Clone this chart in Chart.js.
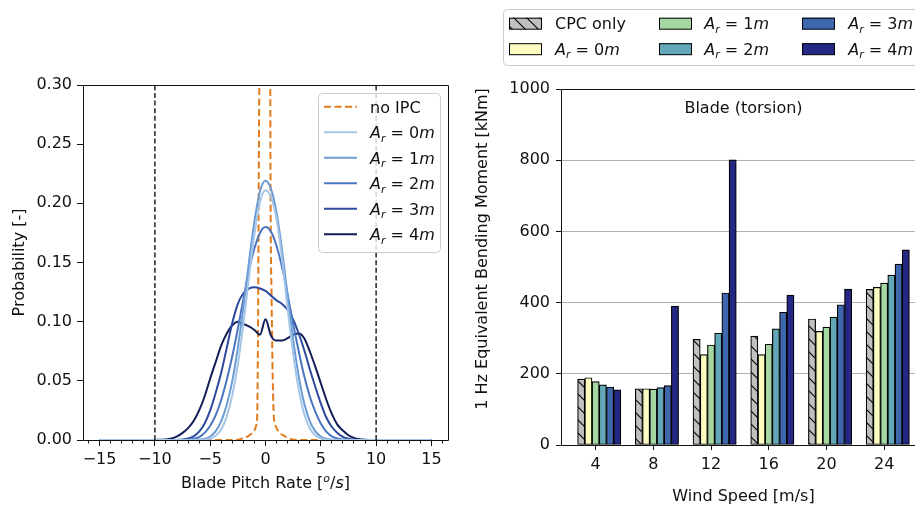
<!DOCTYPE html>
<html><head><meta charset="utf-8">
<script src="https://cdn.jsdelivr.net/npm/chart.js@4/dist/chart.umd.min.js"></script>
<style>
html,body{margin:0;padding:0;width:915px;height:507px;overflow:hidden;background:#fff;}
#l{position:absolute;left:0;top:0;width:460px;height:507px;}
#r{position:absolute;left:470px;top:0;width:470px;height:507px;}
</style></head><body>
<canvas id="l" width="460" height="507"></canvas>
<canvas id="r" width="470" height="507"></canvas>
<script>
// ================= LEFT PANEL DATA =================
const rateX = [-15,-12,-10,-9,-8.5,-8,-7.5,-7,-6.5,-6,-5.5,-5,-4.5,-4,-3.5,-3,-2.5,-2,-1.5,-1,-0.5,0,0.5,1,1.5,2,2.5,3,3.5,4,4.5,5,5.5,6,6.5,7,7.5,8,8.5,9,10,12,15];
const ar0P = [0,0,0,0,0,0,0,0,0,0.0001, 0.0004,0.0013,0.0036,0.009,0.020,0.038,0.064,0.098,0.137,0.174,0.201,0.211,0.205,0.187,0.153,0.111,0.073,0.043,0.022,0.010,0.004,0.0014,0.0004,0.0001, 0,0,0,0,0,0,0,0,0];
const ar1P = [0,0,0,0,0,0,0,0,0.0001, 0.0003,0.001,0.003,0.0075,0.016,0.030,0.050,0.078,0.112,0.150,0.185,0.210,0.219,0.212,0.192,0.160,0.122,0.085,0.054,0.031,0.016,0.0075,0.003,0.001,0.0003,0.0001, 0,0,0,0,0,0,0,0];
const ar2P = [0,0,0,0,0,0,0.0001, 0.0003,0.001,0.0025,0.006,0.012,0.021,0.034,0.051,0.071,0.094,0.119,0.143,0.162,0.175,0.180,0.176,0.164,0.146,0.123,0.098,0.075,0.054,0.037,0.024,0.014,0.007,0.003,0.0012,0.0004,0.0001, 0,0,0,0,0,0];
const ar3P = [0,0,0,0,0,0.0001, 0.0004,0.0012,0.003,0.007,0.014,0.025,0.040,0.057,0.078,0.099,0.115,0.124,0.128,0.129,0.128,0.126,0.122,0.118,0.115,0.110,0.102,0.090,0.076,0.060,0.045,0.031,0.019,0.011,0.006,0.0027,0.0011,0.0004,0.0001, 0,0,0,0];
const ar4P = [0,0,0.0001,0.0004, 0.0012,0.003,0.006,0.010,0.016,0.025,0.037,0.052,0.066,0.080,0.090,0.097,0.100,0.098,0.096,0.093,0.089,0.102,0.088,0.084,0.084,0.086,0.089,0.090,0.086,0.075,0.062,0.048,0.034,0.022,0.013,0.008,0.004,0.0018,0.0007,0.0002, 0,0,0];
const noIpcX = [-15,-3,-2.4,-2.0,-1.6,-1.3,-1.0,-0.85,-0.75,-0.71,-0.66,-0.62,-0.56,-0.45,-0.25,-0.05,0.15,0.35,0.43,0.46,0.55,0.66,0.75,0.85,1.0,1.3,1.7,2.0,2.4,3,15];
const noIpcP = [0,0,0.0005,0.0015,0.003,0.005,0.008,0.012,0.02,0.05,0.12,0.2,0.3,0.42,0.58,0.64,0.58,0.4,0.3,0.2,0.12,0.05,0.02,0.014,0.01,0.006,0.0035,0.002,0.0005,0,0];
const rateTicks = [-15,-10,-5,0,5,10,15];
const probTicks = [0,0.05,0.10,0.15,0.20,0.25,0.30];
const rateLimits = [-10, 10];
const lineNames = ['no IPC','A_r = 0m','A_r = 1m','A_r = 2m','A_r = 3m','A_r = 4m'];

// ================= RIGHT PANEL DATA =================
const windSpeeds = [4, 8, 12, 16, 20, 24];
const cpcOnly = [185, 158, 297, 306, 354, 437];
const ar0M    = [189, 158, 254, 254, 319, 443];
const ar1M    = [178, 157, 281, 283, 331, 455];
const ar2M    = [169, 161, 314, 326, 359, 477];
const ar3M    = [163, 167, 427, 373, 394, 508];
const ar4M    = [155, 390, 801, 421, 438, 548];
const momentTicks = [0, 200, 400, 600, 800, 1000];
const barNames = ['CPC only','A_r = 0m','A_r = 1m','A_r = 2m','A_r = 3m','A_r = 4m'];

// ================= STYLE =================
const FONT = '"DejaVu Sans", "Liberation Sans", sans-serif';
const INK = '#111';
const lineColors = ['#e07b1e', '#a6c6e7', '#6c9cd5', '#4a76c0', '#2c499e', '#121d58'];
const barColors = [null, '#fdfdc2', '#a5d7a3', '#62a8b9', '#3f67ae', '#242884'];
const BAR_STEP = 0.5;
Chart.defaults.font.family = FONT;

function fontOf(p){ return (p.i ? 'italic ' : '') + (p.s || 16) + 'px ' + FONT; }
function labelParts(label){
  const m = /^A_r = (\d+)m$/.exec(label);
  if (!m) return [{t: label}];
  return [{t:'A', i:1}, {t:'r', i:1, s:11, dy:3.5}, {t:' = ' + m[1]}, {t:'m', i:1}];
}
function drawRich(ctx, parts, x, y, align){
  let w = 0;
  const ws = parts.map(p => { ctx.font = fontOf(p); const m = ctx.measureText(p.t).width; w += m; return m; });
  let cx = align === 'center' ? x - w / 2 : x;
  ctx.textAlign = 'left'; ctx.textBaseline = 'alphabetic';
  parts.forEach((p, i) => { ctx.font = fontOf(p); ctx.fillText(p.t, cx, y + (p.dy || 0)); cx += ws[i]; });
}
function al(v){ return Math.round(v - 0.5) + 0.5; }
function frame(ctx, a, sides){
  ctx.save(); ctx.strokeStyle = INK; ctx.lineWidth = 1; ctx.setLineDash([]);
  const L = al(a.left), R = al(a.right), T = al(a.top), B = al(a.bottom);
  ctx.beginPath();
  if (sides.includes('l')) { ctx.moveTo(L, T); ctx.lineTo(L, B); }
  if (sides.includes('r')) { ctx.moveTo(R, T); ctx.lineTo(R, B); }
  if (sides.includes('t')) { ctx.moveTo(L, T); ctx.lineTo(R, T); }
  if (sides.includes('b')) { ctx.moveTo(L, B); ctx.lineTo(R, B); }
  ctx.stroke(); ctx.restore();
}
function legendBox(ctx, x, y, w, h){
  ctx.save();
  ctx.beginPath(); ctx.roundRect(x + 0.5, y + 0.5, w, h, 4);
  ctx.fillStyle = 'rgba(255,255,255,0.8)'; ctx.fill();
  ctx.strokeStyle = '#cccccc'; ctx.lineWidth = 1; ctx.stroke();
  ctx.restore();
}
const fmtRate = v => (v < 0 ? '\u2212' + Math.abs(v) : String(v));

// ================= LEFT CHART =================
const lineSeries = [ar0P, ar1P, ar2P, ar3P, ar4P];
const dsL = [{
  label: lineNames[0], data: noIpcX.map((x, i) => ({x, y: noIpcP[i]})),
  borderColor: lineColors[0], borderDash: [7, 3.5], borderWidth: 2, order: 10
}];
lineSeries.forEach((s, k) => dsL.push({
  label: lineNames[k + 1], data: rateX.map((x, i) => ({x, y: s[i]})),
  borderColor: lineColors[k + 1], borderWidth: 2, order: k
}));
dsL.forEach(d => Object.assign(d, {pointRadius: 0, fill: false, cubicInterpolationMode: 'monotone', clip: 0}));

const leftDecor = {
  id: 'leftDecor',
  afterDatasetsDraw(chart){
    const {ctx, chartArea: a, scales: {x}} = chart;
    ctx.save();
    ctx.beginPath(); ctx.rect(a.left, a.top, a.right - a.left, a.bottom - a.top); ctx.clip();
    ctx.strokeStyle = '#000'; ctx.lineWidth = 1.3; ctx.setLineDash([5, 2.6]);
    rateLimits.forEach(v => { const px = x.getPixelForValue(v); ctx.beginPath(); ctx.moveTo(px, a.bottom); ctx.lineTo(px, a.top); ctx.stroke(); });
    ctx.restore();
  },
  afterDraw(chart){
    const {ctx, chartArea: a, scales: {x}} = chart;
    frame(ctx, a, 'lrtb');
    // minor ticks
    ctx.save(); ctx.strokeStyle = INK; ctx.lineWidth = 1; ctx.beginPath();
    for (let v = Math.ceil(x.min); v <= Math.floor(x.max); v++) {
      if (v % 5 === 0) continue;
      const px = al(x.getPixelForValue(v));
      ctx.moveTo(px, a.bottom); ctx.lineTo(px, a.bottom + 3.5);
    }
    ctx.stroke(); ctx.restore();
    // legend
    legendBox(ctx, 318, 93, 122, 159);
    chart.data.datasets.forEach((d, i) => {
      const cy = 106.7 + i * 25.5;
      ctx.save(); ctx.strokeStyle = d.borderColor; ctx.lineWidth = 2;
      ctx.setLineDash(d.borderDash || []);
      ctx.beginPath(); ctx.moveTo(324, cy); ctx.lineTo(357, cy); ctx.stroke(); ctx.restore();
      ctx.fillStyle = INK; drawRich(ctx, labelParts(d.label), 370, cy + 5.8, 'left');
    });
    // axis titles
    ctx.fillStyle = INK;
    drawRich(ctx, [{t:'Blade Pitch Rate ['}, {t:'o', i:1, s:11, dy:-6.5}, {t:'/'}, {t:'s', i:1}, {t:']'}], (a.left + a.right) / 2, 488, 'center');
    ctx.save(); ctx.translate(24, (a.top + a.bottom) / 2); ctx.rotate(-Math.PI / 2);
    drawRich(ctx, [{t:'Probability [-]'}], 0, 0, 'center'); ctx.restore();
  }
};

new Chart(document.getElementById('l'), {
  type: 'line',
  data: { datasets: dsL },
  options: {
    responsive: false, animation: false, events: [],
    layout: { padding: { left: 0, right: 12, top: 85, bottom: 0 } },
    plugins: { legend: { display: false }, tooltip: { enabled: false } },
    scales: {
      x: {
        type: 'linear', min: -16.5, max: 16.5,
        afterBuildTicks: s => { s.ticks = rateTicks.map(v => ({value: v})); },
        afterFit: s => { s.height = 67; },
        grid: { drawOnChartArea: false, drawTicks: true, tickLength: 6, tickColor: INK, tickWidth: 1 },
        border: { display: false },
        ticks: { color: INK, font: { size: 16 }, padding: 4, maxRotation: 0, autoSkip: false, callback: v => fmtRate(v) }
      },
      y: {
        type: 'linear', min: 0, max: 0.3,
        afterBuildTicks: s => { s.ticks = probTicks.map(v => ({value: v})); },
        afterFit: s => { s.width = 83; },
        grid: { drawOnChartArea: false, drawTicks: true, tickLength: 6, tickColor: INK, tickWidth: 1 },
        border: { display: false },
        ticks: { color: INK, font: { size: 16 }, padding: 5, autoSkip: false, callback: v => v.toFixed(2) }
      }
    }
  },
  plugins: [leftDecor]
});

// ================= RIGHT CHART =================
const rctx = document.getElementById('r').getContext('2d');
function makeHatch(){
  const n = 13, c = document.createElement('canvas'); c.width = n; c.height = n;
  const g = c.getContext('2d');
  g.fillStyle = '#c0c0c0'; g.fillRect(0, 0, n, n);
  g.strokeStyle = '#000'; g.lineWidth = 1.1;
  g.beginPath();
  g.moveTo(0, 0); g.lineTo(n, n);
  g.moveTo(-2, n - 2); g.lineTo(2, n + 2);
  g.moveTo(n - 2, -2); g.lineTo(n + 2, 2);
  g.stroke();
  return rctx.createPattern(c, 'repeat');
}
const hatch = makeHatch();
const barSeries = [cpcOnly, ar0M, ar1M, ar2M, ar3M, ar4M];
const dsR = barSeries.map((vals, k) => ({
  label: barNames[k],
  data: windSpeeds.map((w, i) => ({x: w + (k - 2) * BAR_STEP, y: vals[i]})),
  backgroundColor: k === 0 ? hatch : barColors[k],
  borderColor: '#000', borderWidth: 1.2, borderSkipped: false,
  grouped: false, barPercentage: 1, categoryPercentage: 1
}));

const rightDecor = {
  id: 'rightDecor',
  afterDraw(chart){
    const {ctx, chartArea: a} = chart;
    frame(ctx, a, 'lrtb');
    ctx.fillStyle = INK;
    drawRich(ctx, [{t:'Blade (torsion)'}], (a.left + a.right) / 2, 113, 'center');
    // legend
    legendBox(ctx, 33, 9, 420, 56);
    const hx = [39, 189, 332], tx = [85, 234.3, 378.3], cy = [23.5, 49];
    chart.data.datasets.forEach((d, k) => {
      const col = Math.floor(k / 2), row = k % 2;
      ctx.save();
      ctx.fillStyle = d.backgroundColor; ctx.fillRect(hx[col], cy[row] - 5.8, 33, 11.6);
      ctx.strokeStyle = '#000'; ctx.lineWidth = 1; ctx.strokeRect(hx[col] + 0.5, cy[row] - 5.8 + 0.5, 32, 11);
      ctx.restore();
      ctx.fillStyle = INK; drawRich(ctx, labelParts(d.label), tx[col], cy[row] + 5.8, 'left');
    });
    // axis titles
    ctx.fillStyle = INK;
    drawRich(ctx, [{t:'Wind Speed [m/s]'}], (a.left + a.right) / 2, 501, 'center');
    ctx.save(); ctx.translate(17, 249); ctx.rotate(-Math.PI / 2);
    drawRich(ctx, [{t:'1 Hz Equivalent Bending Moment [kNm]'}], 0, 0, 'center'); ctx.restore();
  }
};

new Chart(rctx, {
  type: 'bar',
  data: { datasets: dsR },
  options: {
    responsive: false, animation: false, events: [],
    layout: { padding: { left: 0, right: 14, top: 89, bottom: 0 } },
    plugins: { legend: { display: false }, tooltip: { enabled: false } },
    scales: {
      x: {
        type: 'linear', min: 1.6, max: 26.9, offset: false,
        afterBuildTicks: s => { s.ticks = windSpeeds.map(v => ({value: v})); },
        afterFit: s => { s.height = 62; },
        grid: { offset: false, drawOnChartArea: false, drawTicks: true, tickLength: 5, tickColor: INK, tickWidth: 1 },
        border: { display: false },
        ticks: { color: INK, font: { size: 16 }, padding: 5, maxRotation: 0, autoSkip: false, callback: v => String(v) }
      },
      y: {
        type: 'linear', min: 0, max: 1000,
        afterBuildTicks: s => { s.ticks = momentTicks.map(v => ({value: v})); },
        afterFit: s => { s.width = 91; },
        grid: {
          color: c => (c.tick && c.tick.value > 0 && c.tick.value < 1000) ? '#b0b0b0' : 'rgba(0,0,0,0)',
          lineWidth: 1, drawTicks: true, tickLength: 5, tickColor: INK, tickWidth: 1
        },
        border: { display: false },
        ticks: { color: INK, font: { size: 16 }, padding: 6, autoSkip: false, callback: v => String(v) }
      }
    }
  },
  plugins: [rightDecor]
});
</script></body></html>
